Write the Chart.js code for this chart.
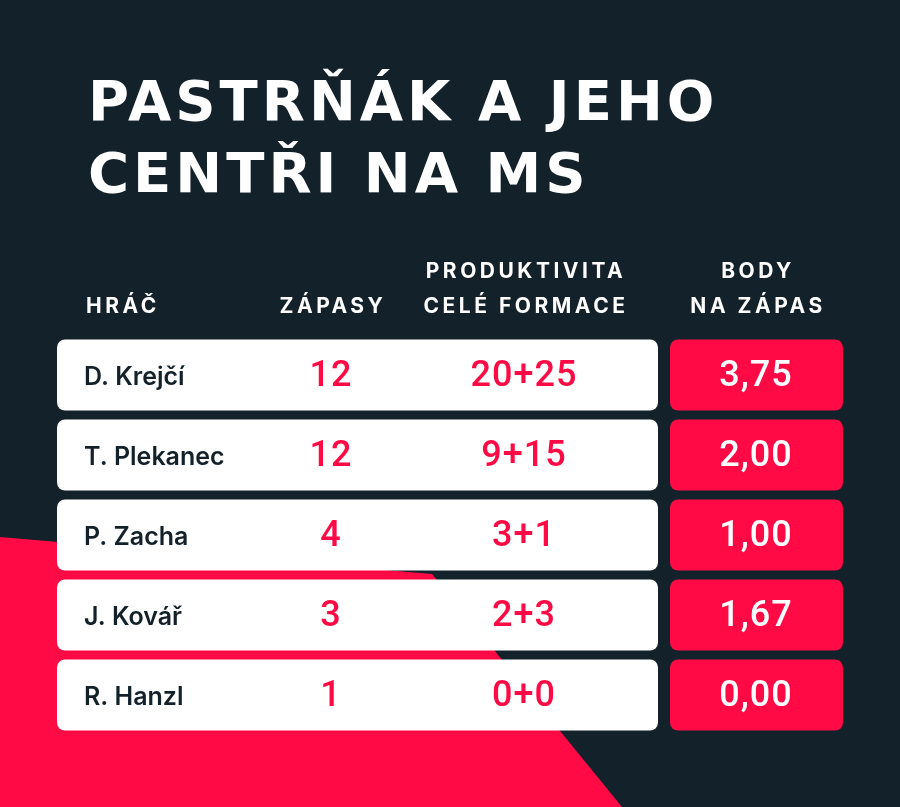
<!DOCTYPE html>
<html>
<head>
<meta charset="utf-8">
<script src="https://cdn.jsdelivr.net/npm/chart.js@4"></script>
<style>
  html, body { margin: 0; padding: 0; background: #13212b; }
  #wrap { width: 900px; height: 807px; position: relative; }
</style>
</head>
<body>
<div id="wrap"><canvas id="tableChart"></canvas></div>
<script>
// Table data
const players = ['D. Krejčí', 'T. Plekanec', 'P. Zacha', 'J. Kovář', 'R. Hanzl'];
const games = ['12', '12', '4', '3', '1'];
const lineProduction = ['20+25', '9+15', '3+1', '2+3', '0+0'];
const pointsPerGame = ['3,75', '2,00', '1,00', '1,67', '0,00'];
const titleLines = ['PASTRŇÁK A JEHO', 'CENTŘI NA MS'];

const DARK = '#13212b';
const RED = '#ff0a45';

// Background + text drawn on the chart canvas
const tablePlugin = {
  id: 'tablePlugin',
  beforeDraw(chart) {
    const c = chart.ctx;
    c.save();
    c.fillStyle = DARK;
    c.fillRect(0, 0, chart.width, chart.height);
    c.fillStyle = RED;
    c.beginPath();
    c.moveTo(0, 537);
    c.lineTo(432, 574);
    c.lineTo(622, 807);
    c.lineTo(0, 807);
    c.closePath();
    c.fill();
    c.restore();
  },
  afterDatasetsDraw(chart) {
    const c = chart.ctx;
    const y = chart.scales.y;
    c.save();
    c.fillStyle = '#ffffff';
    c.textBaseline = 'alphabetic';
    c.font = 'bold 56px "DejaVu Sans"';
    c.letterSpacing = '4px';
    c.fillText(titleLines[0], 88, 120);
    c.fillText(titleLines[1], 88, 192);

    c.font = 'bold 21px "Inter"';
    c.letterSpacing = '3.5px';
    c.textAlign = 'left';
    c.fillText('HRÁČ', 86, 313);
    c.textAlign = 'center';
    c.fillText('ZÁPASY', 333, 313);
    c.fillText('PRODUKTIVITA', 526, 278);
    c.fillText('CELÉ FORMACE', 526, 313);
    c.fillText('BODY', 758, 278);
    c.fillText('NA ZÁPAS', 758, 313);

    c.letterSpacing = '0px';
    c.textBaseline = 'middle';
    players.forEach((p, i) => {
      const cy = y.getPixelForValue(i) + 2;
      c.textAlign = 'left';
      c.fillStyle = DARK;
      c.font = '600 25px "Inter"';
      c.fillText(p, 84, cy);
      c.textAlign = 'center';
      c.fillStyle = RED;
      c.font = '500 36px "Roboto"';
      c.letterSpacing = '1px';
      c.fillText(games[i], 331, cy);
      c.fillText(lineProduction[i], 524, cy);
      c.fillStyle = '#ffffff';
      c.fillText(pointsPerGame[i], 756, cy);
      c.letterSpacing = '0px';
    });
    c.restore();
  }
};

new Chart(document.getElementById('tableChart'), {
  type: 'bar',
  data: {
    labels: players,
    datasets: [
      {
        data: players.map(() => [57, 658]),
        backgroundColor: '#ffffff',
        borderRadius: 8,
        borderSkipped: false
      },
      {
        data: players.map(() => [670, 843]),
        backgroundColor: RED,
        borderRadius: 8,
        borderSkipped: false
      }
    ]
  },
  options: {
    indexAxis: 'y',
    responsive: true,
    maintainAspectRatio: false,
    animation: false,
    layout: { padding: { top: 335, bottom: 72, left: 0, right: 0 } },
    datasets: { bar: { grouped: false, barPercentage: 0.8875, categoryPercentage: 1 } },
    plugins: { legend: { display: false }, tooltip: { enabled: false } },
    scales: {
      x: { display: false, min: 0, max: 900 },
      y: { display: false }
    }
  },
  plugins: [tablePlugin]
});
</script>
</body>
</html>
